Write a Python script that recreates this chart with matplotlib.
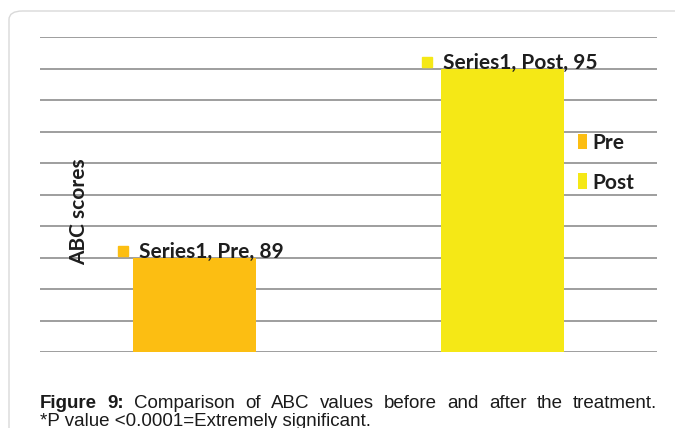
import matplotlib
matplotlib.use("Agg")
import matplotlib.pyplot as plt
from matplotlib.patches import Patch, FancyBboxPatch
from matplotlib.transforms import offset_copy

# ---- data -------------------------------------------------------------
categories = ["Pre", "Post"]
values = [89, 95]
series_name = "Series1"
bar_colors = ["#FCBE12", "#F5E816"]
y_min, y_max = 86, 96
y_label = "ABC scores"
caption_bold = "Figure 9:"
caption_line1 = "Comparison of ABC values before and after the treatment."
caption_line2 = "*P value <0.0001=Extremely significant."

# ---- figure -----------------------------------------------------------
W, H = 675, 428
fig = plt.figure(figsize=(W / 100, H / 100), dpi=100)
fig.patch.set_facecolor("white")

# light rounded frame around chart and caption
frame = FancyBboxPatch((9 / W, -0.2), 1.2, 1 - 11 / H + 0.2,
                       boxstyle="round,pad=0,rounding_size=0.02",
                       transform=fig.transFigure, facecolor="none",
                       edgecolor="#d9d9d9", linewidth=1.0, clip_on=False)
fig.add_artist(frame)

left, right, top, bottom = 40, 657, 37, 352
ax = fig.add_axes([left / W, 1 - bottom / H, (right - left) / W, (bottom - top) / H])

x = list(range(len(categories)))
bars = ax.bar(x, values, width=0.4, color=bar_colors, zorder=3)

ax.set_xlim(-0.5, len(categories) - 0.5)
ax.set_ylim(y_min, y_max)
ax.set_yticks(range(y_min, y_max + 1))
ax.set_xticks([])
ax.tick_params(axis="y", length=0, labelleft=False)
ax.grid(axis="y", color="#9e9e9e", linewidth=1.4, zorder=0)
for s in ax.spines.values():
    s.set_visible(False)

label_font = dict(family=["Lato", "DejaVu Sans"], weight="bold", size=15, color="#1e1e1e")

ax.set_ylabel(y_label, **label_font)
ax.yaxis.set_label_coords((79 - left) / (right - left), 0.445)
ax.yaxis.label.set_va("center")

# legend (one entry per category, coloured by point)
handles = [Patch(facecolor=c, edgecolor="none", label=cat) for c, cat in zip(bar_colors, categories)]
leg = ax.legend(handles=handles, loc="upper left",
                bbox_to_anchor=(559 / W, 1 - 114 / H), bbox_transform=fig.transFigure,
                frameon=False, handlelength=0.45, handleheight=0.8, handletextpad=0.25,
                labelspacing=0.95, prop=dict(family="Lato", weight="bold", size=15))
for t in leg.get_texts():
    t.set_color("#1e1e1e")

# data labels with legend keys
fig.canvas.draw()
renderer = fig.canvas.get_renderer()
for xi, cat, val, col in zip(x, categories, values, bar_colors):
    txt = ax.annotate(f"{series_name}, {cat}, {val}", xy=(xi, val),
                      xytext=(0, 8), textcoords="offset pixels",
                      ha="left", va="center", zorder=5, **label_font)
    tw = txt.get_window_extent(renderer).width
    group_w = tw + 21
    start = 7 - group_w / 2
    txt.set_position((start + 21, 6))
    key_tr = offset_copy(ax.transData, fig=fig, x=start + 5, y=7, units="dots")
    ax.plot([xi], [val], marker="s", markersize=7.5, color=col, linestyle="none",
            transform=key_tr, zorder=5, clip_on=False)

# caption, first line justified across the chart width
cap_font = dict(family=["Liberation Sans", "DejaVu Sans"], size=13.5, color="#1a1a1a")
words = [(w, "bold") for w in caption_bold.split()] + [(w, "normal") for w in caption_line1.split()]
y1 = 1 - 403 / H
texts = [fig.text(0, y1, w, weight=wt, va="center", ha="left", **cap_font) for w, wt in words]
fig.canvas.draw()
widths = [t.get_window_extent(renderer).width for t in texts]
gap = ((right - left) - sum(widths)) / (len(words) - 1)
pos = left
for t, w in zip(texts, widths):
    t.set_x(pos / W)
    pos += w + gap
fig.text(left / W, 1 - 421 / H, caption_line2, va="center", ha="left", **cap_font)

fig.savefig("out.png", dpi=100)
